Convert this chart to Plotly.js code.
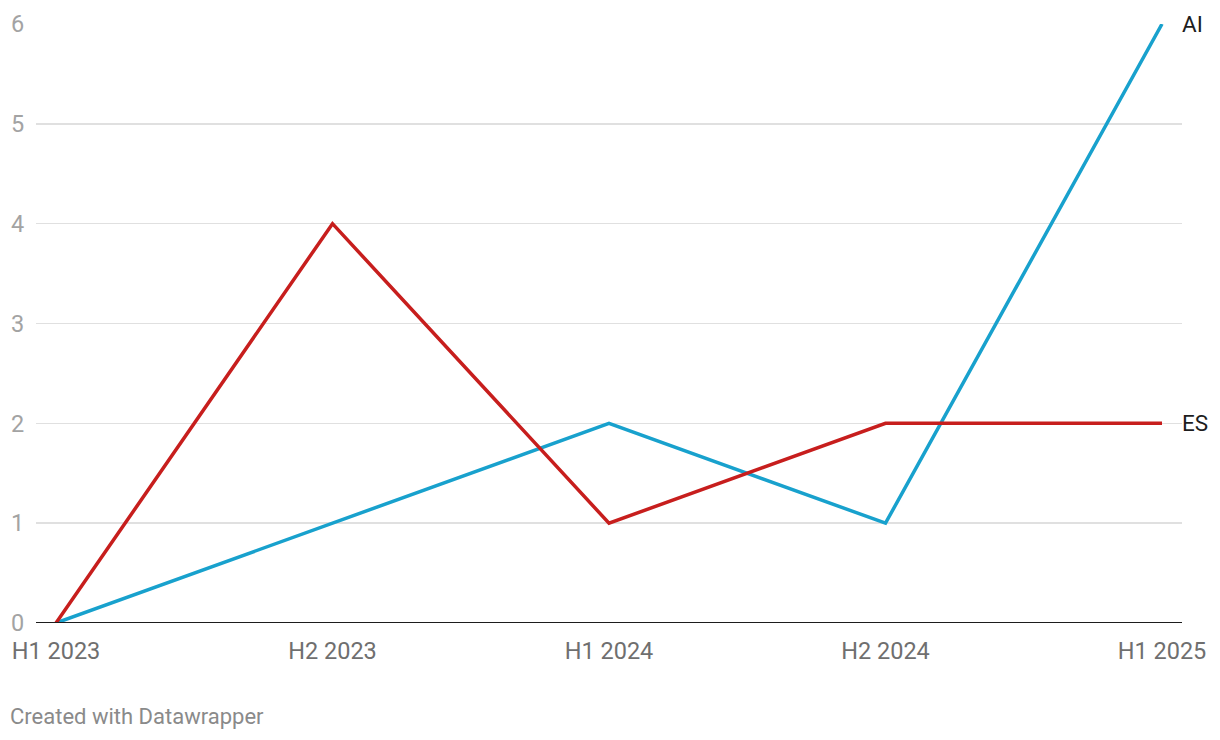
<!DOCTYPE html>
<html>
<head>
<meta charset="utf-8">
<script src="https://cdn.plot.ly/plotly-3.0.1.min.js"></script>
<style>
  html, body { margin: 0; padding: 0; background: #fff; }
  #chart { width: 1220px; height: 740px; }
</style>
</head>
<body>
<div id="chart"></div>
<script>
const periods = ["H1 2023", "H2 2023", "H1 2024", "H2 2024", "H1 2025"];
const seriesAI = [0, 1, 2, 1, 6];
const seriesES = [0, 4, 1, 2, 2];
const seriesNames = ["AI", "ES"];
const yTicks = [0, 1, 2, 3, 4, 5, 6];

const blue = "#18a1cd";
const red = "#c71e1d";
const font = "Roboto, 'Noto Sans', sans-serif";

const traces = [
  { x: periods, y: seriesAI, name: seriesNames[0], type: "scatter", mode: "lines",
    line: { color: blue, width: 3.5 }, hoverinfo: "skip" },
  { x: periods, y: seriesES, name: seriesNames[1], type: "scatter", mode: "lines",
    line: { color: red, width: 3.5 }, hoverinfo: "skip" }
];

const n = periods.length;
const last = periods[n - 1];

const layout = {
  width: 1220, height: 740,
  margin: { l: 36, r: 38, t: 24, b: 117 },
  paper_bgcolor: "#ffffff", plot_bgcolor: "#ffffff",
  showlegend: false,
  font: { family: font },
  xaxis: {
    type: "category",
    categoryorder: "array", categoryarray: periods,
    range: [-0.0723, n - 1 + 0.0723],
    showgrid: false, zeroline: false, showline: false,
    ticks: "outside", ticklen: 7, tickcolor: "rgba(0,0,0,0)",
    tickfont: { family: font, size: 23.5, color: "#6f6f6f" },
    fixedrange: true
  },
  yaxis: {
    range: [0, 6],
    tickvals: yTicks,
    ticktext: yTicks.map(String),
    showgrid: true, gridcolor: "#e0e0e0", gridwidth: 1.5,
    zeroline: false, showline: false,
    ticks: "outside", ticklen: 6, tickcolor: "rgba(0,0,0,0)",
    tickfont: { family: font, size: 23.5, color: "#a3a3a3" },
    fixedrange: true
  },
  shapes: [
    { type: "line", xref: "paper", yref: "y", x0: 0, x1: 1, y0: 0, y1: 0,
      line: { color: "#1d1d1d", width: 2 } }
  ],
  annotations: [
    { x: last, y: seriesAI[n - 1], xref: "x", yref: "y", text: seriesNames[0],
      showarrow: false, xanchor: "left", yanchor: "middle", xshift: 18,
      font: { family: font, size: 22.5, color: "#1d1d1d" } },
    { x: last, y: seriesES[n - 1], xref: "x", yref: "y", text: seriesNames[1],
      showarrow: false, xanchor: "left", yanchor: "middle", xshift: 18,
      font: { family: font, size: 22.5, color: "#1d1d1d" } },
    { x: 0, y: 0, xref: "paper", yref: "paper", xanchor: "left", yanchor: "top",
      xshift: -28, yshift: -79,
      text: "Created with Datawrapper", showarrow: false,
      font: { family: font, size: 22, color: "#8a8a8a" } }
  ]
};

Plotly.newPlot("chart", traces, layout, { displayModeBar: false, staticPlot: true });
</script>
</body>
</html>
